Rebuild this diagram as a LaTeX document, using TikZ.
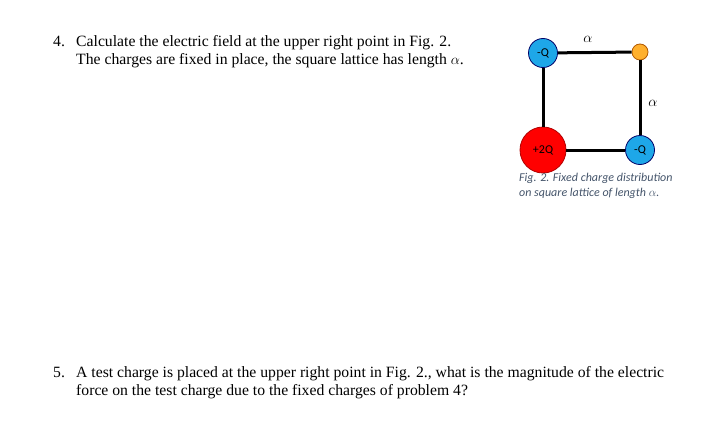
\documentclass[tikz,border=0pt]{standalone}
\usepackage{fontspec}
\setmainfont{Liberation Serif}
\newfontfamily\capfont{Carlito}
\definecolor{qblue}{HTML}{1EA7E8}
\definecolor{qred}{HTML}{FF0000}
\definecolor{qorange}{HTML}{FFB02E}
\definecolor{capcol}{HTML}{44546A}
\begin{document}
\begin{tikzpicture}[x=1pt,y=-1pt,
  txt/.style={anchor=base west,inner sep=0,font=\fontsize{15.7}{18}\selectfont},
  charge/.style={circle,draw=black!60!blue,line width=0.8pt,inner sep=0,font=\capfont\fontsize{12}{14}\selectfont},
  bond/.style={line width=3pt}]
\useasboundingbox (0,0) rectangle (714,420);
\node[txt] (n4) at (53,46) {4.};
\node[txt] (t4a) at (76,46) {Calculate the electric field at the upper right point in Fig. 2.};
\node[txt] (t4b) at (76,64) {The charges are fixed in place, the square lattice has length $\alpha$.};
\node[charge,fill=qblue,minimum size=29pt] (tl) at (543,53) {-Q};
\node[charge,fill=qorange,draw=orange!70!black,minimum size=16pt] (tr) at (640,52) {};
\node[charge,fill=qred,draw=red!70!black,minimum size=46pt] (bl) at (543,150) {+2Q};
\node[charge,fill=qblue,minimum size=29pt] (br) at (640,150) {-Q};
\draw[bond] (tl) -- (tr);
\draw[bond] (tr) -- (br);
\draw[bond] (tl) -- (bl);
\draw[bond] (bl) -- (br);
\node[font=\fontsize{14}{16}\selectfont] (a1) at (588,39) {$\alpha$};
\node[font=\fontsize{14}{16}\selectfont] (a2) at (653,103) {$\alpha$};
\node[anchor=north west,inner sep=0,align=left,text=capcol,font=\capfont\itshape\fontsize{12}{15}\selectfont] (cap) at (519,173) {Fig. 2. Fixed charge distribution\\on square lattice of length $\alpha$.};
\node[txt] (n5) at (53,377) {5.};
\node[txt] (t5a) at (76,377) {A test charge is placed at the upper right point in Fig. 2., what is the magnitude of the electric};
\node[txt] (t5b) at (76,395) {force on the test charge due to the fixed charges of problem 4?};
\end{tikzpicture}
\end{document}
